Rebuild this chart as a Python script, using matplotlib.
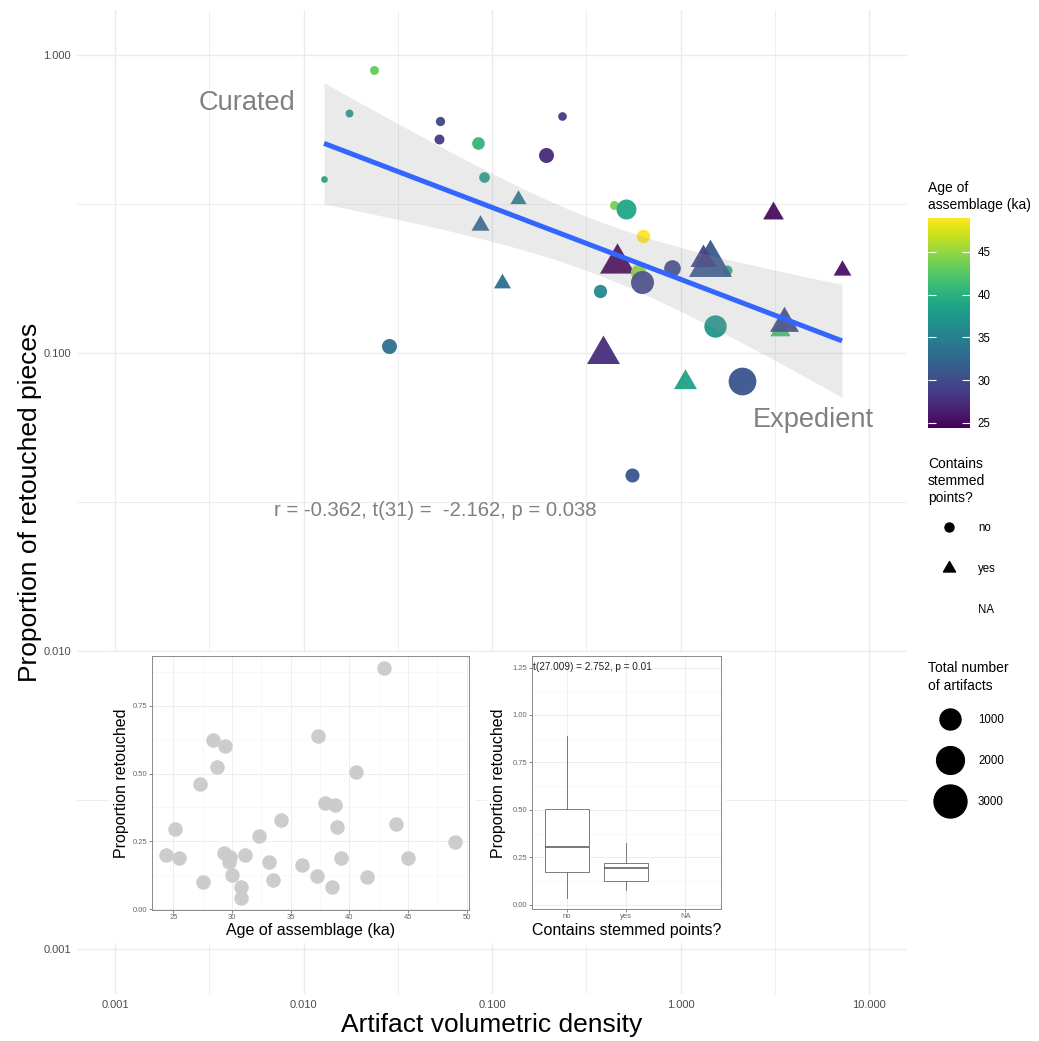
import numpy as np
import matplotlib
matplotlib.use("Agg")
import matplotlib.pyplot as plt
import matplotlib.colors as mcolors
from matplotlib.lines import Line2D
from matplotlib.path import Path
from matplotlib.patches import Rectangle
from matplotlib.cm import ScalarMappable

plt.rcParams['font.family'] = ['Liberation Sans', 'DejaVu Sans']

# ---------------- data ----------------
density = [0.0237, 0.0174, 0.01285, 0.0530, 0.0524, 0.0843, 0.0908, 0.1936, 0.235,
           0.1374, 0.0863, 0.113, 0.4436, 0.514, 0.632, 0.460, 0.596, 0.625, 0.374,
           0.902, 1.765, 1.432, 1.316, 3.097, 7.19, 3.37, 3.54, 1.524, 0.388, 1.057,
           2.12, 0.0285, 0.553]
prop = [0.891, 0.639, 0.384, 0.601, 0.523, 0.507, 0.390, 0.462, 0.624,
        0.328, 0.268, 0.172, 0.314, 0.304, 0.247, 0.201, 0.187, 0.173, 0.161,
        0.193, 0.190, 0.199, 0.207, 0.294, 0.190, 0.119, 0.126, 0.123, 0.099, 0.080,
        0.0806, 0.1056, 0.039]
age = [42.95, 37.32, 38.79, 29.39, 28.74, 40.54, 37.88, 27.29, 28.37,
       34.14, 32.28, 33.15, 43.97, 38.96, 48.98, 24.38, 44.99, 29.76, 35.99,
       29.84, 39.24, 31.12, 29.30, 25.17, 25.45, 41.48, 29.95, 37.26, 27.49, 38.48,
       30.75, 33.47, 30.75]
stemmed = ['no', 'no', 'no', 'no', 'no', 'no', 'no', 'no', 'no',
           'yes', 'yes', 'yes', 'no', 'no', 'no', 'yes', 'no', 'no', 'no',
           'no', 'no', 'yes', 'yes', 'yes', 'yes', 'yes', 'yes', 'no', 'yes', 'yes',
           'no', 'no', 'no']
artifacts = [70, 40, 16, 80, 105, 240, 135, 400, 60,
             200, 285, 235, 70, 880, 280, 1700, 425, 1260, 280,
             540, 105, 2800, 800, 430, 270, 400, 1060, 1170, 1470, 570,
             1990, 400, 330]

stem_levels = ['no', 'yes', 'NA']
size_breaks = [1000, 2000, 3000]
age_breaks = [25, 30, 35, 40, 45]

x_breaks = [0.001, 0.01, 0.1, 1, 10]
x_labels = ['0.001', '0.010', '0.100', '1.000', '10.000']
y_breaks = [0.001, 0.01, 0.1, 1]
y_labels = ['0.001', '0.010', '0.100', '1.000']

stats_text = 'r = -0.362, t(31) =  -2.162, p = 0.038'
ttest_text = 't(27.009) = 2.752, p = 0.01'

# ---------------- helpers ----------------
W, H = 1039, 1041
fig = plt.figure(figsize=(W / 100, H / 100), dpi=100)


def rect(l, t, r, b):
    return [l / W, 1 - b / H, (r - l) / W, (b - t) / H]


def fx(px):
    return px / W


def fy(py):
    return 1 - py / H


PX2PT = 0.72
tri = Path([[0, 1.5551], [1.3468, -0.7776], [-1.3468, -0.7776], [0, 1.5551]],
           [Path.MOVETO, Path.LINETO, Path.LINETO, Path.CLOSEPOLY])


def diam_px(n):
    return 4.65 + 0.517 * np.sqrt(n)


cmap = plt.get_cmap('viridis')
norm = mcolors.Normalize(vmin=min(age), vmax=max(age))
GRID = '#EBEBEB'
TXT_GRAY = '#4D4D4D'

# ---------------- main panel ----------------
ax = fig.add_axes(rect(77.3, 10.3, 906.7, 993.7))
ax.set_xscale('log')
ax.set_yscale('log')
ax.set_xlim(10 ** -3.2, 10 ** 1.2)
ax.set_ylim(10 ** -3.15, 10 ** 0.15)
ax.set_xticks(x_breaks)
ax.set_xticklabels(x_labels)
ax.set_yticks(y_breaks)
ax.set_yticklabels(y_labels)
ax.set_xticks([10 ** v for v in (-2.5, -1.5, -0.5, 0.5)], minor=True)
ax.set_yticks([10 ** v for v in (-2.5, -1.5, -0.5)], minor=True)
ax.xaxis.set_minor_formatter(plt.NullFormatter())
ax.yaxis.set_minor_formatter(plt.NullFormatter())
ax.tick_params(which='both', length=0, labelsize=8, labelcolor=TXT_GRAY, pad=4.5)
for s in ax.spines.values():
    s.set_visible(False)
ax.grid(which='major', color=GRID, lw=1.0)
ax.grid(which='minor', color=GRID, lw=0.6)
ax.set_axisbelow(True)

for i in range(len(density)):
    d = diam_px(artifacts[i])
    if stemmed[i] == 'yes':
        mk, ms = tri, 1.555 * d * PX2PT
    else:
        mk, ms = 'o', d * PX2PT
    ax.scatter([density[i]], [prop[i]], s=ms ** 2, marker=mk,
               color=cmap(norm(age[i])), linewidths=0, alpha=0.95, zorder=3 + i * 0.01)

# regression on log-log scale with 95% CI
lx = np.log10(np.array(density))
ly = np.log10(np.array(prop))
n = len(lx)
b, a = np.polyfit(lx, ly, 1)
xs = np.linspace(lx.min(), lx.max(), 100)
yh = a + b * xs
res = ly - (a + b * lx)
s = np.sqrt(np.sum(res ** 2) / (n - 2))
sxx = np.sum((lx - lx.mean()) ** 2)
se = s * np.sqrt(1 / n + (xs - lx.mean()) ** 2 / sxx)
tq = 2.0395
ax.fill_between(10 ** xs, 10 ** (yh - tq * se), 10 ** (yh + tq * se),
                color='#999999', alpha=0.2, lw=0, zorder=4)
ax.plot(10 ** xs, 10 ** yh, color='#3366FF', lw=3.6, zorder=5, solid_capstyle='butt')

ax.text(0.005, 0.69, 'Curated', fontsize=19.6, color='#808080', ha='center', va='center')
ax.text(5.05, 0.0596, 'Expedient', fontsize=19.6, color='#808080', ha='center', va='center')
ax.text(0.05, 0.0297, stats_text, fontsize=14.6, color='#808080', ha='center', va='center')

fig.text(fx(492), fy(1025), 'Artifact volumetric density', fontsize=19,
         ha='center', va='center', color='black')
fig.text(fx(30), fy(502), 'Proportion of retouched pieces', fontsize=19,
         ha='center', va='center', rotation=90, color='black')

# ---------------- inset backgrounds ----------------
for (l, t, r, bt) in [(110, 652, 475, 943), (487, 652, 726, 943)]:
    fig.patches.append(Rectangle((fx(l), fy(bt)), (r - l) / W, (bt - t) / H,
                                 transform=fig.transFigure, facecolor='white',
                                 edgecolor='none', zorder=1))


def style_inset(a):
    a.set_facecolor('white')
    for sp in a.spines.values():
        sp.set_color('#8A8A8A')
        sp.set_linewidth(0.7)
    a.tick_params(which='major', length=2, width=0.5, color='#555555',
                  labelsize=5.5, labelcolor='#666666', pad=1.2)
    a.tick_params(which='minor', length=0)
    a.grid(which='major', color=GRID, lw=0.6)
    a.grid(which='minor', color='#F3F3F3', lw=0.4)
    a.set_axisbelow(True)


# inset 1: proportion vs age
ax1 = fig.add_axes(rect(151.7, 656, 469.3, 910), zorder=2)
style_inset(ax1)
ax1.scatter(age, prop, s=(14.5 * PX2PT) ** 2, color='#CCCCCC', linewidths=0, zorder=3)
arng = max(age) - min(age)
prng = max(prop) - min(prop)
ax1.set_xlim(min(age) - 0.05 * arng, max(age) + 0.05 * arng)
ax1.set_ylim(min(prop) - 0.05 * prng, max(prop) + 0.05 * prng)
ax1.set_xticks([25, 30, 35, 40, 45, 50])
ax1.set_xticks([27.5, 32.5, 37.5, 42.5, 47.5], minor=True)
ax1.set_yticks([0, 0.25, 0.5, 0.75])
ax1.set_yticklabels(['0.00', '0.25', '0.50', '0.75'])
ax1.set_yticks([0.125, 0.375, 0.625, 0.875], minor=True)
fig.text(fx(310.5), fy(930), 'Age of assemblage (ka)', fontsize=11.5, ha='center', va='center')
fig.text(fx(121.7), fy(783), 'Proportion retouched', fontsize=11.5, ha='center', va='center',
         rotation=90)

# inset 2: boxplot by stemmed points
ax2 = fig.add_axes(rect(531.7, 656, 720.7, 909), zorder=2)
style_inset(ax2)
groups = [[p for p, st in zip(prop, stemmed) if st == lev] for lev in stem_levels[:2]]
ax2.boxplot(groups, positions=[1, 2], widths=0.75, whis=1.5, showcaps=False,
            showfliers=False, patch_artist=True,
            boxprops=dict(facecolor='white', edgecolor='#666666', lw=0.6),
            whiskerprops=dict(color='#666666', lw=0.6),
            medianprops=dict(color='#555555', lw=1.1))
ylo = min(prop)
yhi = 1.25
ax2.set_xlim(0.4, 3.6)
ax2.set_ylim(ylo - 0.05 * (yhi - ylo), yhi + 0.05 * (yhi - ylo))
ax2.set_xticks([1, 2, 3])
ax2.set_xticklabels(stem_levels)
ax2.set_yticks([0, 0.25, 0.5, 0.75, 1.0, 1.25])
ax2.set_yticklabels(['0.00', '0.25', '0.50', '0.75', '1.00', '1.25'])
ax2.set_yticks([0.125, 0.375, 0.625, 0.875, 1.125], minor=True)
ax2.text(0.42, 1.25, ttest_text, fontsize=7.2, ha='left', va='center', color='#222222')
fig.text(fx(626.2), fy(930), 'Contains stemmed points?', fontsize=11.5, ha='center', va='center')
fig.text(fx(498), fy(783), 'Proportion retouched', fontsize=11.5, ha='center', va='center',
         rotation=90)

# ---------------- legends ----------------
# colour bar
cax = fig.add_axes(rect(928, 218, 970, 428))
cb = fig.colorbar(ScalarMappable(norm=norm, cmap=cmap), cax=cax)
cb.outline.set_visible(False)
cb.set_ticks(age_breaks)
cax.tick_params(which='major', direction='in', color='white', length=5.8, width=0.8,
                left=True, right=True, labelleft=False, labelright=True,
                labelsize=8.3, pad=5.5)
cax.minorticks_off()
fig.text(fx(928), fy(196.5), 'Age of\nassemblage (ka)', fontsize=10, ha='left', va='center',
         linespacing=1.25)

# shape legend
fig.text(fx(928), fy(481), 'Contains\nstemmed\npoints?', fontsize=10, ha='left', va='center',
         linespacing=1.3)
base_d = 9.0
shape_handles = [
    Line2D([], [], ls='', marker='o', color='black', markersize=base_d * PX2PT),
    Line2D([], [], ls='', marker=tri, color='black', markersize=1.555 * base_d * PX2PT),
    Line2D([], [], ls='', marker=''),
]
fs_leg = 8.3
fs_px = fs_leg / PX2PT
leg1 = fig.legend(shape_handles, stem_levels, loc='center left',
                  bbox_to_anchor=(fx(928), fy(569)), frameon=False, fontsize=fs_leg,
                  borderpad=0, borderaxespad=0, handlelength=42 / fs_px,
                  handletextpad=8 / fs_px, labelspacing=2.5)

# size legend
fig.text(fx(928), fy(677), 'Total number\nof artifacts', fontsize=10, ha='left', va='center',
         linespacing=1.3)
size_handles = [Line2D([], [], ls='', marker='o', color='black',
                       markersize=diam_px(v) * PX2PT) for v in size_breaks]
leg2 = fig.legend(size_handles, [str(v) for v in size_breaks], loc='center left',
                  bbox_to_anchor=(fx(928), fy(761)), frameon=False, fontsize=fs_leg,
                  borderpad=0, borderaxespad=0, handlelength=44 / fs_px,
                  handletextpad=6 / fs_px, labelspacing=2.5)

fig.savefig('out.png', dpi=100, facecolor='white')
